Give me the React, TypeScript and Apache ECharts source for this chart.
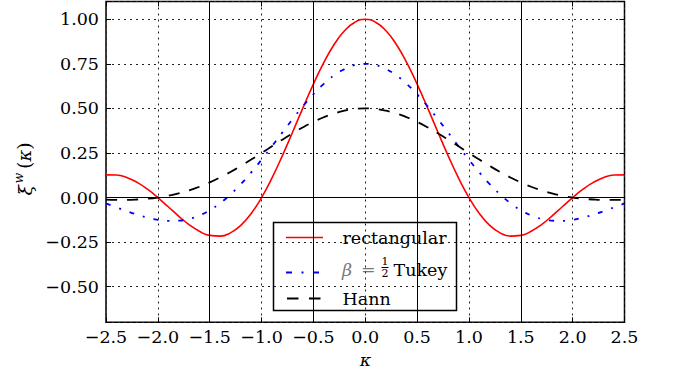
import React, { useEffect, useRef } from "react";
import * as echarts from "echarts";

const kappa = [
  -2.5, -2.4, -2.3, -2.2, -2.1, -2.0, -1.9, -1.8, -1.7, -1.6, -1.5, -1.4, -1.3, -1.2, -1.1, -1.0,
  -0.9, -0.8, -0.7, -0.6, -0.5, -0.4, -0.3, -0.2, -0.1, 0.0, 0.1, 0.2, 0.3, 0.4, 0.5, 0.6, 0.7,
  0.8, 0.9, 1.0, 1.1, 1.2, 1.3, 1.4, 1.5, 1.6, 1.7, 1.8, 1.9, 2.0, 2.1, 2.2, 2.3, 2.4, 2.5,
];

const rectangular = [
  0.1273, 0.1261, 0.112, 0.0851, 0.0468, 0.0, -0.0518, -0.1039, -0.1515, -0.1892, -0.2122, -0.2162,
  -0.1981, -0.1559, -0.0894, 0.0, 0.1093, 0.2339, 0.3679, 0.5046, 0.6366, 0.7568, 0.8584, 0.9355,
  0.9836, 1.0, 0.9836, 0.9355, 0.8584, 0.7568, 0.6366, 0.5046, 0.3679, 0.2339, 0.1093, 0.0,
  -0.0894, -0.1559, -0.1981, -0.2162, -0.2122, -0.1892, -0.1515, -0.1039, -0.0518, 0.0, 0.0468,
  0.0851, 0.112, 0.1261, 0.1273,
];

const tukey = [
  -0.0332, -0.0548, -0.0762, -0.096, -0.1128, -0.125, -0.1311, -0.1297, -0.1198, -0.1004, -0.071,
  -0.0317, 0.0174, 0.0753, 0.1408, 0.2122, 0.2875, 0.3645, 0.4405, 0.5131, 0.5796, 0.6378, 0.6855,
  0.7209, 0.7427, 0.75, 0.7427, 0.7209, 0.6855, 0.6378, 0.5796, 0.5131, 0.4405, 0.3645, 0.2875,
  0.2122, 0.1408, 0.0753, 0.0174, -0.0317, -0.071, -0.1004, -0.1198, -0.1297, -0.1311, -0.125,
  -0.1128, -0.096, -0.0762, -0.0548, -0.0332,
];

const hann = [
  -0.0121, -0.0133, -0.0131, -0.0111, -0.0069, 0.0, 0.0099, 0.0232, 0.0401, 0.0606, 0.0849, 0.1126,
  0.1435, 0.1772, 0.2129, 0.25, 0.2876, 0.3248, 0.3607, 0.3942, 0.4244, 0.4505, 0.4716, 0.4872,
  0.4968, 0.5, 0.4968, 0.4872, 0.4716, 0.4505, 0.4244, 0.3942, 0.3607, 0.3248, 0.2876, 0.25,
  0.2129, 0.1772, 0.1435, 0.1126, 0.0849, 0.0606, 0.0401, 0.0232, 0.0099, 0.0, -0.0069, -0.0111,
  -0.0131, -0.0133, -0.0121,
];

const verticalRefLines = [-1.5, -0.5, 0.5, 1.5];
const horizontalRefLines = [0];

const seriesNames = ["rectangular", "Tukey", "Hann"];

const FONT = "DejaVu Serif";
const FS = 17.5;

export default function App() {
  const ref = useRef<HTMLDivElement>(null);

  useEffect(() => {
    if (!ref.current) return;
    const chart = echarts.init(ref.current, undefined, { renderer: "svg" });

    const xFmt = (v: number) =>
      Math.abs(v * 2 - Math.round(v * 2)) < 1e-6 ? v.toFixed(1).replace("-", "\u2212") : "";
    const yFmt = (v: number) =>
      Math.abs(v * 4 - Math.round(v * 4)) < 1e-6 ? v.toFixed(2).replace("-", "\u2212") : "";

    const gridDots = { color: "#222", width: 1, type: [2, 4] as any };
    const tickStyle = { show: true, inside: true, length: 5, lineStyle: { color: "#000", width: 1 } };
    const noLine = { show: false, onZero: false };

    const toPts = (ys: number[]) => kappa.map((x, i) => [x, ys[i]]);

    const yBase: any = {
      type: "value",
      min: -0.7,
      max: 1.1,
      minInterval: 0.25,
      maxInterval: 0.25,
      splitNumber: 7,
      axisLine: noLine,
      axisTick: tickStyle,
    };

    const option: any = {
      animation: false,
      backgroundColor: "#fff",
      grid: {
        left: 106,
        right: 48.5,
        top: 1.5,
        bottom: 48.7,
        show: true,
        borderColor: "#000",
        borderWidth: 1.5,
        backgroundColor: "transparent",
      },
      xAxis: [
        {
          type: "value",
          min: -2.5,
          max: 2.5,
          interval: 0.5,
          position: "bottom",
          axisLine: noLine,
          axisTick: tickStyle,
          axisLabel: {
            formatter: xFmt,
            fontFamily: FONT,
            fontSize: FS,
            color: "#000",
            margin: 6,
          },
          splitLine: { show: true, lineStyle: gridDots },
        },
        {
          type: "value",
          min: -2.5,
          max: 2.5,
          interval: 0.5,
          position: "top",
          axisLine: noLine,
          axisTick: tickStyle,
          axisLabel: { show: false },
          splitLine: { show: false },
        },
      ],
      yAxis: [
        {
          ...yBase,
          position: "left",
          axisLabel: {
            formatter: yFmt,
            fontFamily: FONT,
            fontSize: FS,
            color: "#000",
            margin: 7,
          },
          splitLine: { show: true, lineStyle: gridDots },
        },
        {
          ...yBase,
          position: "right",
          axisLabel: { show: false },
          splitLine: { show: false },
        },
      ],
      series: [
        {
          type: "line",
          name: "refs",
          data: [],
          silent: true,
          z: 1,
          markLine: {
            silent: true,
            symbol: "none",
            label: { show: false },
            lineStyle: { color: "#000", width: 1, type: "solid" },
            data: [
              ...verticalRefLines.map((v) => ({ xAxis: v })),
              ...horizontalRefLines.map((v) => ({ yAxis: v })),
            ],
          },
        },
        {
          type: "line",
          name: seriesNames[0],
          data: toPts(rectangular),
          symbol: "none",
          smooth: true,
          z: 3,
          lineStyle: { color: "#ff0000", width: 1.6, type: "solid" },
        },
        {
          type: "line",
          name: seriesNames[1],
          data: toPts(tukey),
          symbol: "none",
          smooth: true,
          z: 3,
          lineStyle: { color: "#0000ff", width: 1.8, type: [5, 9, 2, 9] },
        },
        {
          type: "line",
          name: seriesNames[2],
          data: toPts(hann),
          symbol: "none",
          smooth: true,
          z: 3,
          lineStyle: { color: "#000000", width: 1.8, type: [11, 10] },
        },
      ],
      graphic: [
        {
          type: "group",
          x: 24,
          y: 166,
          rotation: Math.PI / 2,
          children: [
            {
              type: "text",
              x: -29.5,
              y: 1,
              style: {
                text: "ξ",
                font: `italic 19px "${FONT}"`,
                fill: "#000",
                textVerticalAlign: "middle",
                textAlign: "left",
              },
            },
            {
              type: "text",
              x: -17.5,
              y: -6,
              style: {
                text: "w",
                font: `italic 12.5px "${FONT}"`,
                fill: "#000",
                textVerticalAlign: "middle",
                textAlign: "left",
              },
            },
            {
              type: "text",
              x: -3,
              y: 0,
              style: {
                text: "{p|(}{k|κ}{p|)}",
                textVerticalAlign: "middle",
                textAlign: "left",
                rich: {
                  p: { fontFamily: FONT, fontSize: 19, fill: "#000" },
                  k: { fontFamily: FONT, fontStyle: "italic", fontSize: 18, fill: "#000" },
                },
              },
            },
          ],
        },
        {
          type: "text",
          x: 365.5,
          y: 360,
          style: {
            text: "κ",
            font: `italic ${FS}px "${FONT}"`,
            fill: "#000",
            textAlign: "center",
            textVerticalAlign: "middle",
          },
        },
        {
          type: "group",
          z: 100,
          children: [
            {
              type: "rect",
              shape: { x: 273.5, y: 222.5, width: 183, height: 88 },
              style: { fill: "#fff", stroke: "#000", lineWidth: 1.5 },
            },
            {
              type: "line",
              shape: { x1: 286, y1: 237.5, x2: 323, y2: 237.5 },
              style: { stroke: "#ff0000", lineWidth: 1.6 },
            },
            {
              type: "line",
              shape: { x1: 286, y1: 272.5, x2: 323, y2: 272.5 },
              style: { stroke: "#0000ff", lineWidth: 1.8, lineDash: [6, 9.5, 2, 9.5] },
            },
            {
              type: "line",
              shape: { x1: 287, y1: 298.5, x2: 323, y2: 298.5 },
              style: { stroke: "#000", lineWidth: 1.8, lineDash: [11.5, 10.5] },
            },
            {
              type: "text",
              x: 342.5,
              y: 238,
              style: {
                text: seriesNames[0],
                font: `${FS}px "${FONT}"`,
                fill: "#000",
                textVerticalAlign: "middle",
              },
            },
            {
              type: "text",
              x: 342,
              y: 269.5,
              style: {
                text: "β",
                font: `italic ${FS}px "${FONT}"`,
                fill: "#777",
                textVerticalAlign: "middle",
              },
            },
            {
              type: "text",
              x: 361,
              y: 269,
              style: {
                text: "=",
                font: `${FS}px "${FONT}"`,
                fill: "#777",
                textVerticalAlign: "middle",
              },
            },
            {
              type: "text",
              x: 385,
              y: 261.5,
              style: {
                text: "1",
                font: `11px "${FONT}"`,
                fill: "#000",
                textAlign: "center",
                textVerticalAlign: "middle",
              },
            },
            {
              type: "line",
              shape: { x1: 381.5, y1: 267.5, x2: 388.5, y2: 267.5 },
              style: { stroke: "#000", lineWidth: 1 },
            },
            {
              type: "text",
              x: 385,
              y: 273.5,
              style: {
                text: "2",
                font: `11px "${FONT}"`,
                fill: "#000",
                textAlign: "center",
                textVerticalAlign: "middle",
              },
            },
            {
              type: "text",
              x: 393.5,
              y: 269.5,
              style: {
                text: seriesNames[1],
                font: `${FS}px "${FONT}"`,
                fill: "#000",
                textVerticalAlign: "middle",
              },
            },
            {
              type: "text",
              x: 342.5,
              y: 299,
              style: {
                text: seriesNames[2],
                font: `${FS}px "${FONT}"`,
                fill: "#000",
                textVerticalAlign: "middle",
              },
            },
          ],
        },
      ],
    };

    chart.setOption(option);
    return () => chart.dispose();
  }, []);

  return (
    <div
      ref={ref}
      style={{ position: "fixed", left: 0, top: 0, width: 673, height: 371, background: "#fff" }}
    />
  );
}
